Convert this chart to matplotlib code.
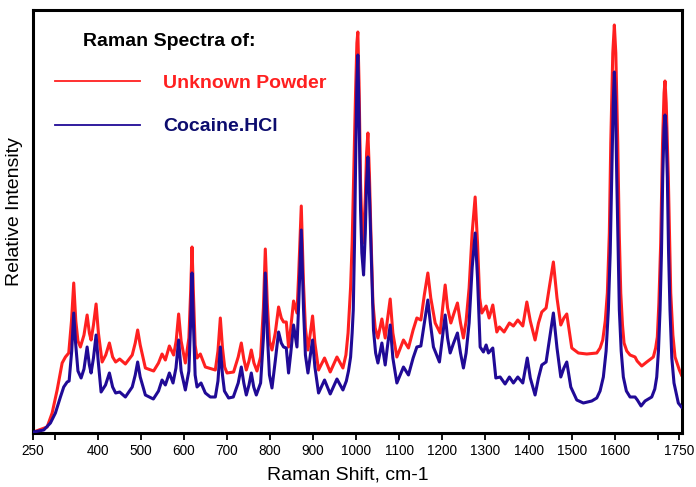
import matplotlib
matplotlib.use("Agg")
import matplotlib.pyplot as plt
from matplotlib.lines import Line2D

# ---------------- data ----------------
# Cocaine.HCl spectrum: Raman shift (cm-1) and relative intensity
cocaine_shift = [
    251, 274.6, 290.1, 301.7, 313.3, 321.0, 328.9, 333.5, 339.5, 344.2, 348.5, 354.0, 361.3,
    368.0, 375.3, 380.5, 384.5, 390.0, 396.1, 401.0, 407.7, 418.0, 427.0, 434.5, 441.5, 450.9,
    464.1, 480.0, 487.0, 492.6, 498.5, 510.5, 529.0, 541.0, 549.2, 556.9, 566.2, 574.7, 581.5,
    587.7, 593.5, 603.3, 611.5, 615.5, 618.8, 622.0, 626.0, 630.4, 639.7, 649.7, 661.3, 672.9,
    679.0, 684.5, 689.5, 694.0, 703.7, 714.6, 726.0, 733.2, 739.0, 744.8, 751.0, 756.4, 762.0,
    768.0, 778.0, 784.5, 788.9, 793.5, 798.5, 804.4, 812.0, 819.7, 826.0, 831.3, 837.6, 842.9,
    848.0, 854.5, 862.4, 866.5, 872.4, 877.5, 882.0, 887.9, 893.5, 898.6, 904.0, 912.5, 926.4,
    939.6, 955.2, 969.1, 977.0, 982.0, 986.9, 990.5, 993.1, 996.0, 998.4, 1001.5, 1003.7,
    1006.5, 1010.0, 1013.0, 1017.0, 1021.0, 1024.0, 1027.1, 1030.5, 1034.0, 1040.0, 1045.0,
    1050.3, 1059.5, 1067.2, 1072.0, 1078.8, 1085.0, 1094.3, 1109.6, 1121.2, 1132.0, 1140.7,
    1150.0, 1158.0, 1166.2, 1172.0, 1179.2, 1193.1, 1200.0, 1206.4, 1212.0, 1218.0, 1226.0,
    1234.9, 1242.0, 1248.8, 1255.0, 1262.0, 1269.0, 1276.0, 1281.5, 1287.6, 1295.2, 1301.5,
    1306.8, 1317.0, 1324.0, 1334.0, 1345.5, 1355.5, 1364.8, 1375.0, 1386.6, 1397.0, 1404.0,
    1415.1, 1423.0, 1430.7, 1440.7, 1449.0, 1457.6, 1466.0, 1474.8, 1482.0, 1488.7, 1498.0,
    1511.9, 1527.2, 1546.7, 1558.3, 1566.0, 1573.6, 1580.0, 1585.2, 1589.5, 1593.1, 1596.5,
    1599.1, 1601.8, 1604.7, 1608.0, 1610.7, 1615.0, 1620.0, 1627.0, 1635.6, 1647.2, 1652.5,
    1661.1, 1670.4, 1685.9, 1693.0, 1697.5, 1701.5, 1705.2, 1708.5, 1711.4, 1714.5, 1716.7,
    1719.0, 1722.1, 1725.0, 1728.3, 1732.5, 1737.6, 1747.6, 1755.0,
]
cocaine_int = [
    1, 3, 10, 20, 36, 46, 51, 52, 82, 120, 90, 62, 55,
    64, 86, 68, 60, 75, 98, 72, 41, 48, 60, 46, 40, 41,
    36, 46, 58, 71, 56, 38, 34, 42, 53, 48, 60, 50, 65,
    93, 62, 43, 62, 110, 160, 110, 58, 46, 50, 40, 36, 36,
    52, 86, 58, 42, 35, 36, 50, 66, 50, 38, 48, 60, 46,
    38, 50, 95, 160, 100, 58, 45, 72, 101, 90, 86, 85, 60,
    80, 108, 86, 130, 203, 125, 78, 60, 78, 93, 66, 40, 53,
    39, 54, 43, 52, 62, 76, 100, 123, 190, 266, 350, 378,
    320, 223, 180, 158, 200, 250, 276, 240, 190, 103, 80,
    70, 90, 68, 85, 108, 75, 50, 66, 58, 75, 86,
    87, 110, 133, 110, 86, 71, 95, 118, 95, 80, 90,
    100, 80, 65, 80, 110, 165, 200, 155, 86, 81, 88,
    80, 85, 55, 56, 49, 56, 50, 56, 50, 75, 55,
    38, 55, 68, 71, 95, 120, 85, 56, 65, 71, 46,
    33, 30, 32, 35, 42, 56, 82, 123, 180, 256, 330,
    361, 330, 256, 180, 123, 82, 56, 42, 36, 36, 33,
    27, 32, 36, 44, 56, 82, 123, 180, 256, 305, 318,
    305, 256, 180, 123, 75, 50, 30, 26,
]

# Unknown Powder spectrum
unknown_shift = [
    251, 282.5, 294.1, 305.7, 317.3, 324.9, 332.6, 339.0, 344.2, 349.0, 354.0, 359.7,
    368.0, 375.3, 380.5, 384.5, 390.0, 396.1, 401.5, 410.1, 418.5, 427.0, 434.5, 441.5,
    450.9, 464.1, 480.0, 487.0, 492.6, 498.5, 510.5, 529.7, 541.0, 549.2, 556.9, 566.2,
    576.1, 582.0, 587.7, 593.5, 603.3, 611.5, 615.5, 618.8, 622.0, 626.0, 630.4, 638.1,
    649.7, 672.9, 679.0, 684.5, 689.5, 694.5, 700.0, 715.3, 726.0, 733.2, 739.0, 744.8,
    751.0, 756.4, 762.5, 769.6, 778.0, 784.5, 788.9, 793.5, 798.5, 804.4, 812.0, 819.7,
    826.0, 831.3, 837.6, 842.9, 848.0, 854.5, 862.4, 866.5, 872.4, 877.5, 882.0, 887.9,
    893.5, 898.6, 904.0, 912.5, 926.4, 939.6, 955.2, 969.1, 976.0, 981.0, 986.9, 990.5,
    993.1, 996.0, 998.4, 1001.5, 1003.7, 1006.5, 1010.0, 1013.0, 1016.3, 1021.0, 1024.0,
    1027.1, 1030.5, 1034.0, 1038.7, 1044.0, 1050.3, 1059.5, 1067.2, 1072.0, 1078.8, 1085.0,
    1094.3, 1109.6, 1121.2, 1132.0, 1140.7, 1150.0, 1158.0, 1166.2, 1173.0, 1183.2, 1194.8,
    1200.5, 1206.4, 1212.0, 1219.6, 1227.0, 1234.9, 1242.0, 1248.8, 1255.0, 1262.0, 1269.0,
    1276.0, 1281.5, 1286.5, 1291.5, 1301.5, 1308.4, 1317.0, 1326.3, 1332.3, 1343.2, 1355.5,
    1364.8, 1375.0, 1386.6, 1396.0, 1404.0, 1415.1, 1423.0, 1430.7, 1440.7, 1449.0, 1457.6,
    1466.0, 1474.8, 1482.0, 1488.7, 1500.3, 1515.6, 1535.1, 1558.3, 1566.0, 1572.2, 1578.0,
    1582.9, 1587.5, 1590.8, 1595.5, 1599.1, 1602.5, 1607.0, 1610.5, 1614.0, 1618.0, 1621.6,
    1628.0, 1635.6, 1647.2, 1652.0, 1662.7, 1674.3, 1689.6, 1695.0, 1698.9, 1702.5, 1706.7,
    1711.0, 1714.5, 1716.7, 1719.5, 1724.4, 1727.5, 1730.0, 1735.0, 1740.0, 1750.0, 1755.0,
]
unknown_int = [
    1, 6, 20, 43, 70, 76, 80, 112, 150, 112, 92, 86,
    98, 118, 100, 93, 108, 129, 100, 71, 78, 90, 76, 71,
    74, 69, 78, 90, 103, 88, 65, 62, 70, 79, 73, 87,
    78, 92, 119, 92, 70, 95, 140, 186, 140, 88, 75, 79,
    66, 63, 82, 115, 85, 66, 60, 61, 76, 90, 74, 63,
    72, 83, 70, 62, 76, 125, 184, 130, 92, 83, 100, 126,
    115, 111, 111, 86, 105, 132, 120, 160, 227, 150, 105, 83,
    100, 117, 90, 63, 75, 61, 76, 65, 78, 100, 146, 190,
    240, 300, 340, 390, 401, 350, 250, 210, 190, 235, 280,
    300, 260, 200, 130, 105, 95, 114, 95, 112, 134, 100,
    76, 93, 85, 103, 115, 113, 138, 160, 135, 110, 100,
    125, 148, 125, 110, 120, 130, 110, 95, 112, 145, 200,
    236, 190, 135, 120, 127, 115, 128, 101, 106, 101, 110,
    107, 113, 107, 131, 112, 93, 110, 121, 125, 148, 171,
    135, 108, 115, 119, 85, 80, 79, 80, 85, 93, 112,
    140, 200, 290, 380, 408, 380, 290, 200, 140, 108, 90,
    82, 78, 76, 72, 67, 71, 76, 85, 96, 130, 190,
    290, 340, 352, 330, 256, 190, 140, 98, 76, 63, 58,
]

tick_values = [250, 300, 400, 500, 600, 700, 800, 900, 1000, 1100, 1200,
               1300, 1400, 1500, 1600, 1700, 1750]
tick_labels = ["250", "", "400", "500", "600", "700", "800", "900", "1000", "1100",
               "1200", "1300", "1400", "1500", "1600", "", "1750"]

legend_title = "Raman Spectra of:"
series_names = ["Unknown Powder", "Cocaine.HCl"]

# ---------------- styling ----------------
RED = "#ff2020"
BLUE = "#200a96"
NAVY = "#0c0c6e"
FONT = "Liberation Sans"

W, H = 696, 487
fig = plt.figure(figsize=(W / 100, H / 100), dpi=100)
fig.patch.set_facecolor("white")

ax_l, ax_r, ax_t, ax_b = 32.5, 681.5, 10.0, 433.0
ax = fig.add_axes([ax_l / W, 1 - ax_b / H, (ax_r - ax_l) / W, (ax_b - ax_t) / H])

ax.plot(unknown_shift, unknown_int, color=RED, lw=2.2, solid_joinstyle="round", zorder=2)
ax.plot(cocaine_shift, cocaine_int, color=BLUE, lw=2.2, solid_joinstyle="round", zorder=3)

ax.set_xlim(248.5, 1755)
ax.set_ylim(0, 423)

for s in ax.spines.values():
    s.set_linewidth(2.2)
    s.set_color("black")

ax.set_yticks([])
ax.set_xticks(tick_values)
ax.set_xticklabels(tick_labels, fontfamily=FONT, fontsize=9.8)
ax.tick_params(axis="x", direction="out", length=5, width=1.3, pad=3, colors="black")

ax.set_xlabel("Raman Shift, cm-1", fontfamily=FONT, fontsize=14)
ax.xaxis.set_label_coords((348 - ax_l) / (ax_r - ax_l), (ax_b - 467) / (ax_b - ax_t))

fig.text(15 / W, 1 - 212 / H, "Relative Intensity", rotation=90, ha="center", va="center",
         fontfamily=FONT, fontsize=14)

# legend block
fig.text(83 / W, 1 - 45.5 / H, legend_title, ha="left", va="baseline",
         fontfamily=FONT, fontsize=14, fontweight="bold", color="black")
fig.add_artist(Line2D([55 / W, 140 / W], [1 - 81 / H, 1 - 81 / H], color=RED, lw=1.3,
                      transform=fig.transFigure))
fig.add_artist(Line2D([55 / W, 140 / W], [1 - 125 / H, 1 - 125 / H], color=BLUE, lw=1.3,
                      transform=fig.transFigure))
fig.text(163 / W, 1 - 88.3 / H, series_names[0], ha="left", va="baseline",
         fontfamily=FONT, fontsize=14, fontweight="bold", color=RED)
fig.text(163 / W, 1 - 130.7 / H, series_names[1], ha="left", va="baseline",
         fontfamily=FONT, fontsize=14, fontweight="bold", color=NAVY)

fig.savefig("out.png", dpi=100, facecolor="white")
